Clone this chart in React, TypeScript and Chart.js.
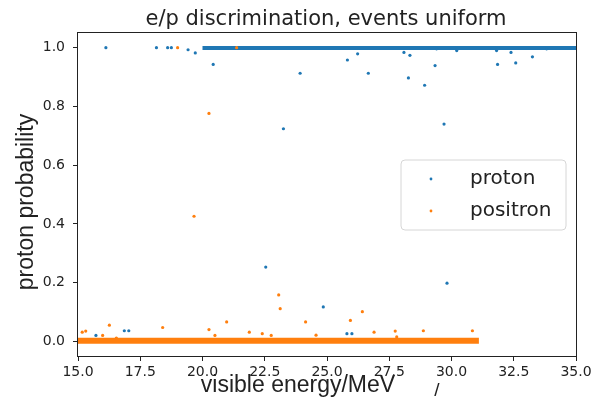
import React, { useEffect, useRef } from 'react';
import { Chart, registerables } from 'chart.js';

Chart.register(...registerables);

// proton: isolated points
const protonX = [16.12, 18.15, 18.6, 18.75, 19.42, 19.71, 20.43, 23.92, 23.25, 25.82, 26.23, 26.66, 28.09, 28.33, 28.27, 29.34, 28.92, 29.7, 30.21, 29.4, 31.81, 31.85, 32.39, 32.58, 33.25, 33.82, 22.54, 24.85, 29.82, 15.72, 16.86, 17.04, 25.8, 26.0];
const protonY = [1.0, 1.0, 1.0, 1.0, 0.993, 0.982, 0.943, 0.913, 0.724, 0.958, 0.979, 0.913, 0.984, 0.974, 0.897, 0.939, 0.872, 0.74, 0.99, 0.996, 0.99, 0.943, 0.984, 0.948, 0.969, 0.996, 0.253, 0.117, 0.198, 0.02, 0.036, 0.036, 0.026, 0.026];
// proton: dense run of events at probability 1
const protonBandX = [20.0, 35.0];
const protonBandY = [0.999, 0.999];

// positron: isolated points
const positronX = [19.0, 21.37, 20.26, 19.66, 23.06, 23.12, 15.17, 15.31, 16.26, 15.99, 18.4, 20.26, 20.5, 20.97, 21.88, 22.4, 22.76, 24.14, 24.56, 16.54, 26.42, 25.94, 26.89, 27.74, 27.8, 28.87, 30.84];
const positronY = [1.0, 1.0, 0.776, 0.426, 0.158, 0.111, 0.031, 0.035, 0.055, 0.02, 0.047, 0.04, 0.02, 0.066, 0.031, 0.026, 0.02, 0.066, 0.021, 0.011, 0.101, 0.071, 0.031, 0.035, 0.015, 0.036, 0.036];
// positron: dense run of events at probability 0
const positronBandX = [15.0, 31.1];
const positronBandY = [0.002, 0.002];

const xTickValues = [15, 17.5, 20, 22.5, 25, 27.5, 30, 32.5, 35];
const yTickValues = [0, 0.2, 0.4, 0.6, 0.8, 1.0];

const seriesLabels = ['proton', 'positron'];
const seriesColors = ['#1f77b4', '#ff7f0e'];

const titleText = 'e/p discrimination, events uniform';
const xLabelText = 'visible energy/MeV';
const yLabelText = 'proton probability';

const toPoints = (xs: number[], ys: number[]) => xs.map((x, i) => ({ x, y: ys[i] }));

const TEXT = '#222222';

const decorPlugin = {
  id: 'decor',
  afterDatasetsDraw(chart: any) {
    const { ctx, chartArea } = chart;
    const { left, top, right, bottom } = chartArea;
    ctx.save();
    // frame (spines)
    ctx.strokeStyle = '#222';
    ctx.lineWidth = 1;
    ctx.strokeRect(Math.round(left) - 0.5, Math.round(top) - 0.5, Math.round(right - left) + 1, Math.round(bottom - top) + 1);

    // legend
    const bx = 401, by = 160, bw = 165, bh = 70, r = 4;
    ctx.beginPath();
    ctx.moveTo(bx + r, by);
    ctx.lineTo(bx + bw - r, by);
    ctx.quadraticCurveTo(bx + bw, by, bx + bw, by + r);
    ctx.lineTo(bx + bw, by + bh - r);
    ctx.quadraticCurveTo(bx + bw, by + bh, bx + bw - r, by + bh);
    ctx.lineTo(bx + r, by + bh);
    ctx.quadraticCurveTo(bx, by + bh, bx, by + bh - r);
    ctx.lineTo(bx, by + r);
    ctx.quadraticCurveTo(bx, by, bx + r, by);
    ctx.closePath();
    ctx.fillStyle = 'rgba(255,255,255,0.85)';
    ctx.fill();
    ctx.strokeStyle = '#d6d6d6';
    ctx.lineWidth = 1;
    ctx.stroke();

    ctx.font = '20px "DejaVu Sans"';
    ctx.textBaseline = 'middle';
    ctx.textAlign = 'left';
    seriesLabels.forEach((lab, i) => {
      const cy = 179 + i * 32;
      ctx.fillStyle = seriesColors[i];
      ctx.beginPath();
      ctx.arc(431, cy, 1.4, 0, Math.PI * 2);
      ctx.fill();
      ctx.fillStyle = TEXT;
      ctx.fillText(lab, 470, cy);
    });
    ctx.restore();
  },
  afterDraw(chart: any) {
    const { ctx } = chart;
    ctx.save();
    ctx.fillStyle = TEXT;
    ctx.textBaseline = 'middle';
    ctx.textAlign = 'center';
    ctx.font = '21px "DejaVu Sans"';
    ctx.fillText(titleText, 326, 20);

    ctx.font = '23px "Liberation Sans"';
    ctx.fillText(xLabelText, 298, 386);

    ctx.save();
    ctx.translate(27, 202);
    ctx.rotate(-Math.PI / 2);
    ctx.fillText(yLabelText, 0, 0);
    ctx.restore();

    ctx.font = '19px "Liberation Sans"';
    ctx.fillText('/', 437, 391);
    ctx.restore();
  },
};

export default function App() {
  const ref = useRef<HTMLCanvasElement | null>(null);
  useEffect(() => {
    document.body.style.margin = '0';
    const canvas = ref.current;
    if (!canvas) return;
    const chart = new Chart(canvas, {
      type: 'scatter',
      data: {
        datasets: [
          {
            label: seriesLabels[0],
            data: toPoints(protonBandX, protonBandY),
            showLine: true,
            borderColor: seriesColors[0],
            backgroundColor: seriesColors[0],
            borderWidth: 4,
            pointRadius: 0,
            order: 4,
          } as any,
          {
            label: seriesLabels[0],
            data: toPoints(protonX, protonY),
            backgroundColor: seriesColors[0],
            borderWidth: 0,
            pointRadius: 1.6,
            pointHoverRadius: 1.6,
            order: 3,
          },
          {
            label: seriesLabels[1],
            data: toPoints(positronBandX, positronBandY),
            showLine: true,
            borderColor: seriesColors[1],
            backgroundColor: seriesColors[1],
            borderWidth: 6,
            pointRadius: 0,
            order: 2,
          } as any,
          {
            label: seriesLabels[1],
            data: toPoints(positronX, positronY),
            backgroundColor: seriesColors[1],
            borderWidth: 0,
            pointRadius: 1.6,
            pointHoverRadius: 1.6,
            order: 1,
          },
        ],
      },
      options: {
        animation: false,
        responsive: false,
        events: [],
        layout: { padding: { top: 33, right: 15, left: 0, bottom: 0 } },
        plugins: {
          legend: { display: false },
          title: { display: false },
          tooltip: { enabled: false },
        },
        scales: {
          x: {
            type: 'linear',
            min: 15,
            max: 35,
            border: { display: false },
            grid: { display: true, drawOnChartArea: false, drawTicks: true, tickLength: 5, color: '#222', tickColor: '#222' },
            ticks: {
              color: TEXT,
              font: { family: 'DejaVu Sans', size: 14 },
              padding: 3,
              maxRotation: 0,
              autoSkip: false,
              callback: (v: any) => Number(v).toFixed(1),
            },
            afterBuildTicks: (scale: any) => {
              scale.ticks = xTickValues.map((value) => ({ value }));
            },
            afterFit: (scale: any) => {
              scale.height = 45;
              scale.paddingLeft = 0;
              scale.paddingRight = 0;
            },
          },
          y: {
            type: 'linear',
            min: -0.05,
            max: 1.05,
            border: { display: false },
            grid: { display: true, drawOnChartArea: false, drawTicks: true, tickLength: 5, color: '#222', tickColor: '#222' },
            ticks: {
              color: TEXT,
              font: { family: 'DejaVu Sans', size: 14 },
              padding: 8,
              autoSkip: false,
              callback: (v: any) => Number(v).toFixed(1),
            },
            afterBuildTicks: (scale: any) => {
              scale.ticks = yTickValues.map((value) => ({ value }));
            },
            afterFit: (scale: any) => {
              scale.width = 78;
              scale.paddingTop = 0;
              scale.paddingBottom = 0;
            },
          },
        },
      },
      plugins: [decorPlugin],
    });
    return () => chart.destroy();
  }, []);
  return (
    <div style={{ width: 591, height: 401, background: '#fff' }}>
      <canvas ref={ref} width={591} height={401} style={{ display: 'block', width: 591, height: 401 }} />
    </div>
  );
}
